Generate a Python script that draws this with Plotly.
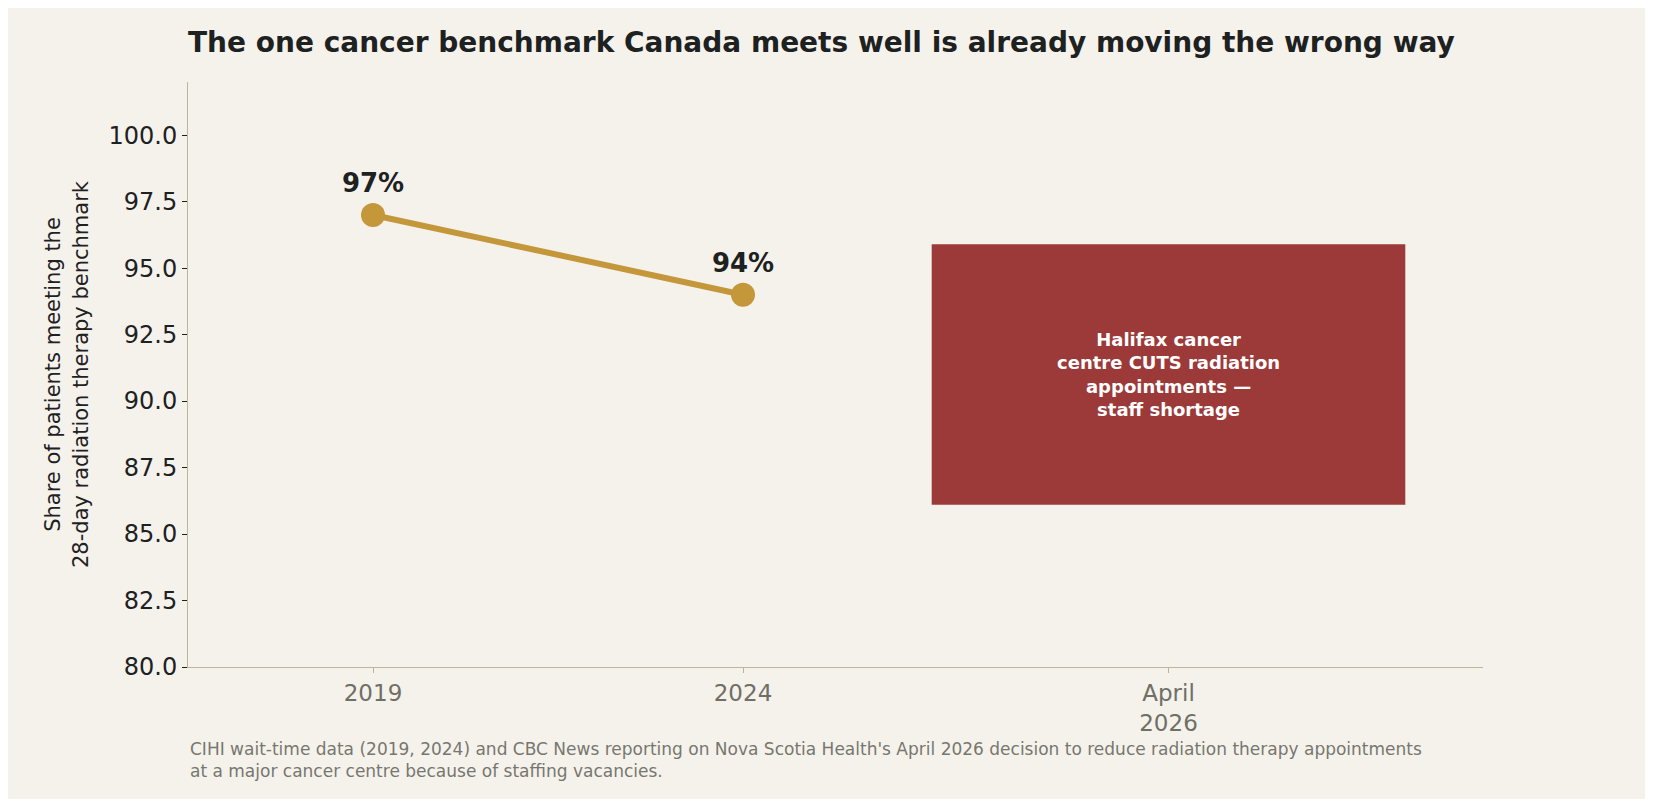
import plotly.graph_objects as go

years = ["2019", "2024"]
xpos = [0, 1]
values = [97, 94]
labels = ["97%", "94%"]
tick_vals = [0, 1, 2.15]
tick_text = ["2019", "2024", "April<br>2026"]
event_x = [1.51, 2.79]
event_y = [86.1, 95.9]
event_text = "<b>Halifax cancer<br>centre CUTS radiation<br>appointments —<br>staff shortage</b>"

bg = "#f5f2ec"
fig = go.Figure()
fig.add_trace(go.Scatter(x=xpos, y=values, mode="lines+markers+text", text=["<b>%s</b>" % l for l in labels],
    textposition="top center", textfont=dict(size=26, color="#1d211f"),
    line=dict(color="#c4973a", width=6), marker=dict(size=24, color="#c4973a"), showlegend=False))
fig.add_shape(type="rect", x0=event_x[0], x1=event_x[1], y0=event_y[0], y1=event_y[1],
    fillcolor="#9c3a3a", line=dict(width=0), layer="above")
fig.add_annotation(x=sum(event_x)/2, y=sum(event_y)/2, text=event_text, showarrow=False,
    font=dict(size=18, color="white"))
fig.add_annotation(xref="paper", yref="paper", x=0, y=-0.12, xanchor="left", yanchor="top", align="left",
    showarrow=False, text="CIHI wait-time data (2019, 2024) and CBC News reporting on Nova Scotia Health's April 2026 decision to reduce radiation therapy appointments<br>at a major cancer centre because of staffing vacancies.",
    font=dict(size=17, color="#77776f"))
fig.update_layout(
    width=1653, height=799, paper_bgcolor=bg, plot_bgcolor=bg,
    margin=dict(l=180, r=178, t=74, b=140),
    font=dict(family="DejaVu Sans"),
    title=dict(text="<b>The one cancer benchmark Canada meets well is already moving the wrong way</b>",
               x=0, xref="paper", xanchor="left", y=0.957, yanchor="middle", font=dict(size=28, color="#1d211f")),
    xaxis=dict(range=[-0.5, 3.0], tickvals=tick_vals, ticktext=tick_text, showgrid=False, zeroline=False,
               showline=True, linecolor="#b9b69c", ticks="outside", tickcolor="#b9b69c",
               tickfont=dict(size=23, color="#6f6f66")),
    yaxis=dict(range=[80, 102], tickvals=[80, 82.5, 85, 87.5, 90, 92.5, 95, 97.5, 100],
               tickformat=".1f", showgrid=False, zeroline=False, showline=True, linecolor="#b9b69c",
               ticks="outside", tickcolor="#1d211f", tickfont=dict(size=24, color="#1d211f"),
               title=dict(text="Share of patients meeting the<br>28-day radiation therapy benchmark",
                          font=dict(size=21, color="#1d211f"), standoff=14)),
)
fig.write_html("out.html")
